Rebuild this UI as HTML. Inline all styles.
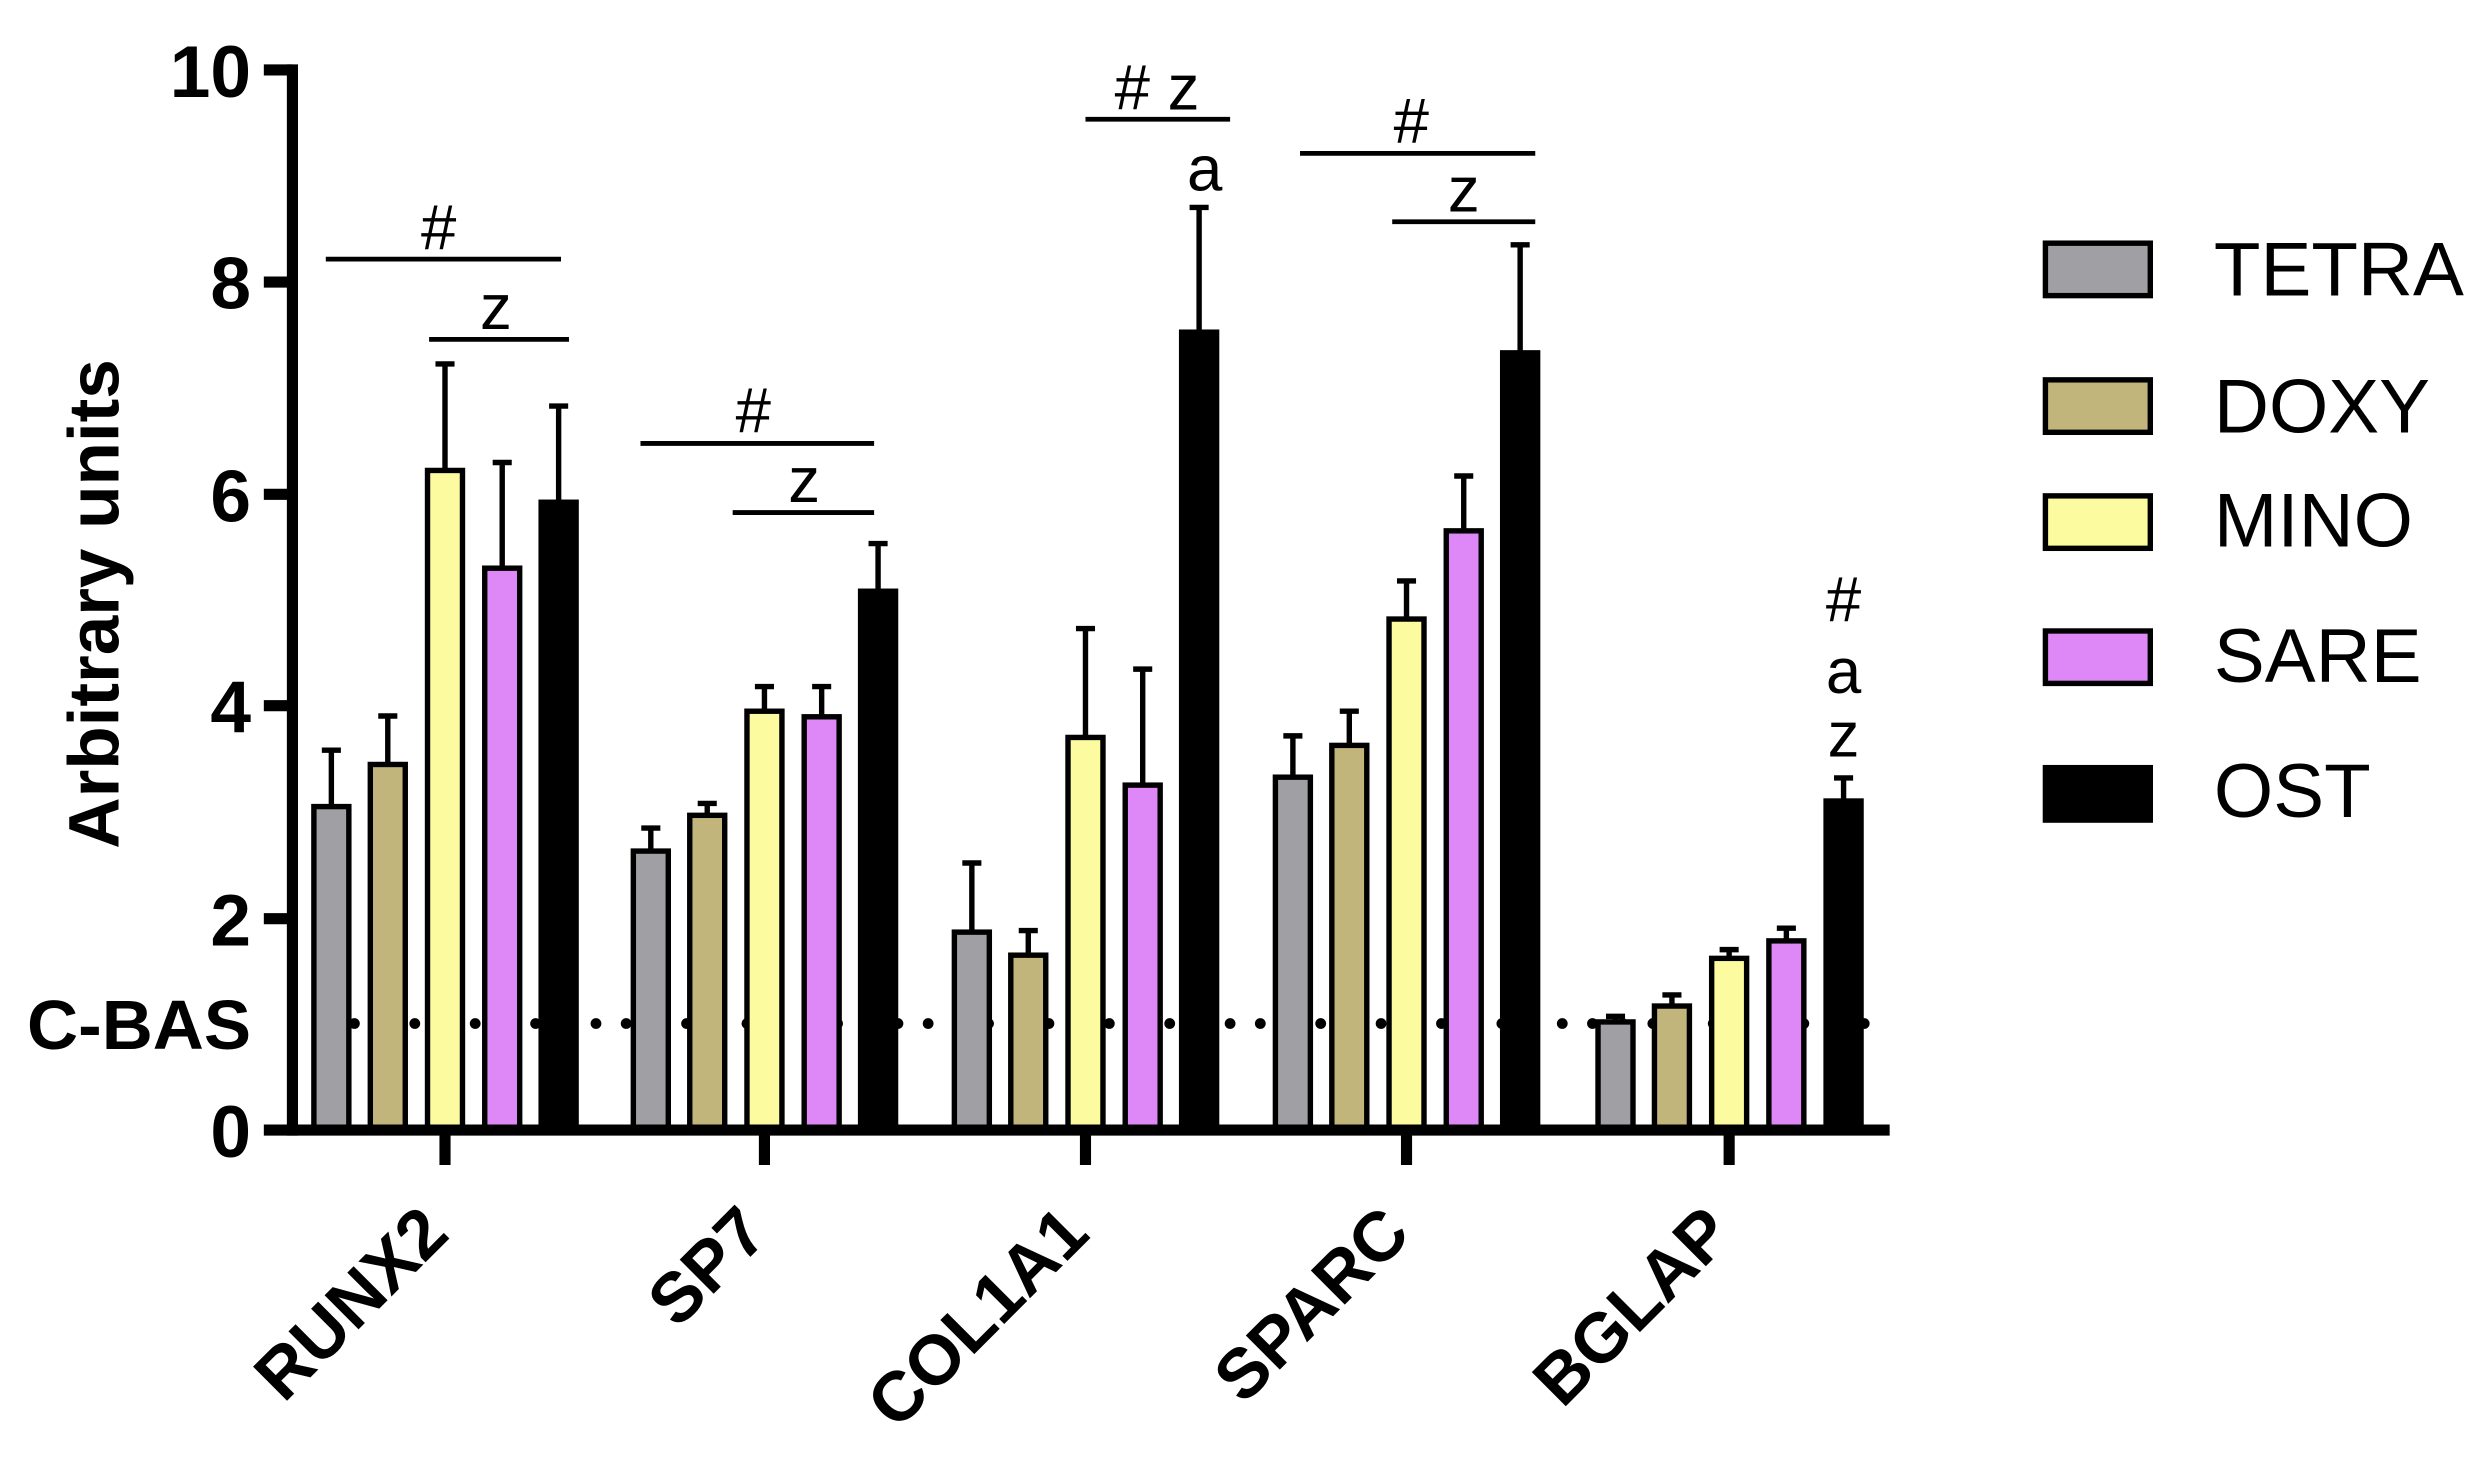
<!DOCTYPE html>
<html><head><meta charset="utf-8"><style>html,body{margin:0;padding:0;background:#fff}svg{display:block}</style></head>
<body>
<svg width="2492" height="1466" viewBox="0 0 1568 922.4" xmlns="http://www.w3.org/2000/svg" font-family="'Liberation Sans', Arial, sans-serif">
<rect width="1568" height="923" fill="#fff"/>
<g fill="#000">
<circle cx="204" cy="644" r="3.4"/><circle cx="223" cy="644" r="3.4"/><circle cx="242" cy="644" r="3.4"/><circle cx="261" cy="644" r="3.4"/><circle cx="280" cy="644" r="3.4"/><circle cx="299" cy="644" r="3.4"/><circle cx="318" cy="644" r="3.4"/><circle cx="337" cy="644" r="3.4"/><circle cx="356" cy="644" r="3.4"/><circle cx="375" cy="644" r="3.4"/><circle cx="394" cy="644" r="3.4"/><circle cx="413" cy="644" r="3.4"/><circle cx="432" cy="644" r="3.4"/><circle cx="451" cy="644" r="3.4"/><circle cx="470" cy="644" r="3.4"/><circle cx="489" cy="644" r="3.4"/><circle cx="508" cy="644" r="3.4"/><circle cx="527" cy="644" r="3.4"/><circle cx="546" cy="644" r="3.4"/><circle cx="565" cy="644" r="3.4"/><circle cx="584" cy="644" r="3.4"/><circle cx="603" cy="644" r="3.4"/><circle cx="622" cy="644" r="3.4"/><circle cx="641" cy="644" r="3.4"/><circle cx="660" cy="644" r="3.4"/><circle cx="679" cy="644" r="3.4"/><circle cx="698" cy="644" r="3.4"/><circle cx="717" cy="644" r="3.4"/><circle cx="736" cy="644" r="3.4"/><circle cx="755" cy="644" r="3.4"/><circle cx="774" cy="644" r="3.4"/><circle cx="793" cy="644" r="3.4"/><circle cx="812" cy="644" r="3.4"/><circle cx="831" cy="644" r="3.4"/><circle cx="850" cy="644" r="3.4"/><circle cx="869" cy="644" r="3.4"/><circle cx="888" cy="644" r="3.4"/><circle cx="907" cy="644" r="3.4"/><circle cx="926" cy="644" r="3.4"/><circle cx="945" cy="644" r="3.4"/><circle cx="964" cy="644" r="3.4"/><circle cx="983" cy="644" r="3.4"/><circle cx="1002" cy="644" r="3.4"/><circle cx="1021" cy="644" r="3.4"/><circle cx="1040" cy="644" r="3.4"/><circle cx="1059" cy="644" r="3.4"/><circle cx="1078" cy="644" r="3.4"/><circle cx="1097" cy="644" r="3.4"/><circle cx="1116" cy="644" r="3.4"/><circle cx="1135" cy="644" r="3.4"/><circle cx="1154" cy="644" r="3.4"/><circle cx="1173" cy="644" r="3.4"/>
</g>

<g stroke="#000" stroke-width="3.4">
<line x1="208.5" y1="507.5" x2="208.5" y2="472" /><line x1="202.5" y1="472" x2="214.5" y2="472"/>
<rect x="197.5" y="507.5" width="22" height="203.5" fill="#a09fa4"/>
<line x1="244" y1="481" x2="244" y2="450.5"/><line x1="238" y1="450.5" x2="250" y2="450.5"/>
<rect x="233" y="481" width="22" height="230" fill="#c2b57c"/>
<line x1="280" y1="296" x2="280" y2="229"/><line x1="274" y1="229" x2="286" y2="229"/>
<rect x="269" y="296" width="22" height="415" fill="#fdfba0"/>
<line x1="316" y1="357.5" x2="316" y2="291"/><line x1="310" y1="291" x2="322" y2="291"/>
<rect x="305" y="357.5" width="22" height="353.5" fill="#dd88f6"/>
<line x1="351.5" y1="316" x2="351.5" y2="255.5"/><line x1="345.5" y1="255.5" x2="357.5" y2="255.5"/>
<rect x="340.5" y="316" width="22" height="395" fill="#000"/>
<line x1="409.5" y1="535.5" x2="409.5" y2="521"/><line x1="403.5" y1="521" x2="415.5" y2="521"/>
<rect x="398.5" y="535.5" width="22" height="175.5" fill="#a09fa4"/>
<line x1="445" y1="513" x2="445" y2="505.5"/><line x1="439" y1="505.5" x2="451" y2="505.5"/>
<rect x="434" y="513" width="22" height="198" fill="#c2b57c"/>
<line x1="481" y1="447.5" x2="481" y2="432"/><line x1="475" y1="432" x2="487" y2="432"/>
<rect x="470" y="447.5" width="22" height="263.5" fill="#fdfba0"/>
<line x1="517" y1="451" x2="517" y2="432"/><line x1="511" y1="432" x2="523" y2="432"/>
<rect x="506" y="451" width="22" height="260" fill="#dd88f6"/>
<line x1="552.5" y1="372" x2="552.5" y2="342"/><line x1="546.5" y1="342" x2="558.5" y2="342"/>
<rect x="541.5" y="372" width="22" height="339" fill="#000"/>
<line x1="611.5" y1="586.5" x2="611.5" y2="543"/><line x1="605.5" y1="543" x2="617.5" y2="543"/>
<rect x="600.5" y="586.5" width="22" height="124.5" fill="#a09fa4"/>
<line x1="647" y1="601" x2="647" y2="585.5"/><line x1="641" y1="585.5" x2="653" y2="585.5"/>
<rect x="636" y="601" width="22" height="110" fill="#c2b57c"/>
<line x1="683" y1="464" x2="683" y2="395.5"/><line x1="677" y1="395.5" x2="689" y2="395.5"/>
<rect x="672" y="464" width="22" height="247" fill="#fdfba0"/>
<line x1="719" y1="494" x2="719" y2="421"/><line x1="713" y1="421" x2="725" y2="421"/>
<rect x="708" y="494" width="22" height="217" fill="#dd88f6"/>
<line x1="754.5" y1="209" x2="754.5" y2="130.5"/><line x1="748.5" y1="130.5" x2="760.5" y2="130.5"/>
<rect x="743.5" y="209" width="22" height="502" fill="#000"/>
<line x1="813.5" y1="489" x2="813.5" y2="463"/><line x1="807.5" y1="463" x2="819.5" y2="463"/>
<rect x="802.5" y="489" width="22" height="222" fill="#a09fa4"/>
<line x1="849" y1="469" x2="849" y2="447.5"/><line x1="843" y1="447.5" x2="855" y2="447.5"/>
<rect x="838" y="469" width="22" height="242" fill="#c2b57c"/>
<line x1="885" y1="389.5" x2="885" y2="365.5"/><line x1="879" y1="365.5" x2="891" y2="365.5"/>
<rect x="874" y="389.5" width="22" height="321.5" fill="#fdfba0"/>
<line x1="921" y1="334" x2="921" y2="299.5"/><line x1="915" y1="299.5" x2="927" y2="299.5"/>
<rect x="910" y="334" width="22" height="377" fill="#dd88f6"/>
<line x1="956.5" y1="222" x2="956.5" y2="154"/><line x1="950.5" y1="154" x2="962.5" y2="154"/>
<rect x="945.5" y="222" width="22" height="489" fill="#000"/>
<line x1="1016.5" y1="643" x2="1016.5" y2="639.5"/><line x1="1010.5" y1="639.5" x2="1022.5" y2="639.5"/>
<rect x="1005.5" y="643" width="22" height="68" fill="#a09fa4"/>
<line x1="1052" y1="633" x2="1052" y2="626"/><line x1="1046" y1="626" x2="1058" y2="626"/>
<rect x="1041" y="633" width="22" height="78" fill="#c2b57c"/>
<line x1="1088" y1="603" x2="1088" y2="597.5"/><line x1="1082" y1="597.5" x2="1094" y2="597.5"/>
<rect x="1077" y="603" width="22" height="108" fill="#fdfba0"/>
<line x1="1124" y1="592" x2="1124" y2="584"/><line x1="1118" y1="584" x2="1130" y2="584"/>
<rect x="1113" y="592" width="22" height="119" fill="#dd88f6"/>
<line x1="1160" y1="504" x2="1160" y2="489.5"/><line x1="1154" y1="489.5" x2="1166" y2="489.5"/>
<rect x="1149" y="504" width="22" height="207" fill="#000"/>
</g>

<g stroke="#000" stroke-width="7">
<line x1="184" y1="40.5" x2="184" y2="714.5"/>
<line x1="166" y1="711" x2="1189" y2="711"/>
<line x1="166" y1="44" x2="184" y2="44"/>
<line x1="166" y1="177.5" x2="184" y2="177.5"/>
<line x1="166" y1="311" x2="184" y2="311"/>
<line x1="166" y1="444" x2="184" y2="444"/>
<line x1="166" y1="578" x2="184" y2="578"/>
<line x1="280" y1="711" x2="280" y2="733"/>
<line x1="481" y1="711" x2="481" y2="733"/>
<line x1="683" y1="711" x2="683" y2="733"/>
<line x1="885" y1="711" x2="885" y2="733"/>
<line x1="1088" y1="711" x2="1088" y2="733"/>
</g>

<g font-weight="bold" font-size="46" text-anchor="end">
<text x="158" y="61">10</text>
<text x="158" y="194">8</text>
<text x="158" y="328">6</text>
<text x="158" y="461">4</text>
<text x="158" y="595">2</text>
<text x="158" y="728">0</text>
<text x="158" y="660" font-size="44" textLength="141" lengthAdjust="spacingAndGlyphs">C-BAS</text>
</g>
<text transform="translate(74.5,380) rotate(-90)" text-anchor="middle" font-weight="bold" font-size="45" textLength="308" lengthAdjust="spacingAndGlyphs">Arbitrary units</text>

<g font-weight="bold" font-size="44" text-anchor="end">
<text transform="translate(284,778) rotate(-45)">RUNX2</text>
<text transform="translate(485,778) rotate(-45)">SP7</text>
<text transform="translate(687,778) rotate(-45)">COL1A1</text>
<text transform="translate(889,778) rotate(-45)">SPARC</text>
<text transform="translate(1092,778) rotate(-45)">BGLAP</text>
</g>

<g stroke="#000" stroke-width="3">
<line x1="205" y1="163" x2="353" y2="163"/>
<line x1="270" y1="213.5" x2="358" y2="213.5"/>
<line x1="403" y1="279" x2="550" y2="279"/>
<line x1="461" y1="322.5" x2="550" y2="322.5"/>
<line x1="683" y1="75" x2="774" y2="75"/>
<line x1="818" y1="96.5" x2="966" y2="96.5"/>
<line x1="876" y1="139.5" x2="966" y2="139.5"/>
</g>
<g font-size="40" text-anchor="middle">
<text x="276" y="157">#</text>
<text x="312" y="207">z</text>
<text x="474" y="272">#</text>
<text x="506" y="316">z</text>
<text x="728" y="69">#&#160;z</text>
<text x="758" y="120">a</text>
<text x="888" y="90">#</text>
<text x="921" y="133">z</text>
<text x="1160" y="391">#</text>
<text x="1160" y="436">a</text>
<text x="1160" y="476">z</text>
</g>

<g stroke="#000" stroke-width="3.4">
<rect x="1287" y="153" width="66" height="33" fill="#a09fa4"/>
<rect x="1287" y="239" width="66" height="33" fill="#c2b57c"/>
<rect x="1287" y="312" width="66" height="33" fill="#fdfba0"/>
<rect x="1287" y="397" width="66" height="33" fill="#dd88f6"/>
<rect x="1287" y="483" width="66" height="33" fill="#000"/>
</g>
<g font-size="48">
<text x="1393" y="186">TETRA</text>
<text x="1393" y="272">DOXY</text>
<text x="1393" y="344">MINO</text>
<text x="1393" y="429">SARE</text>
<text x="1393" y="514">OST</text>
</g>
</svg>
</body></html>
